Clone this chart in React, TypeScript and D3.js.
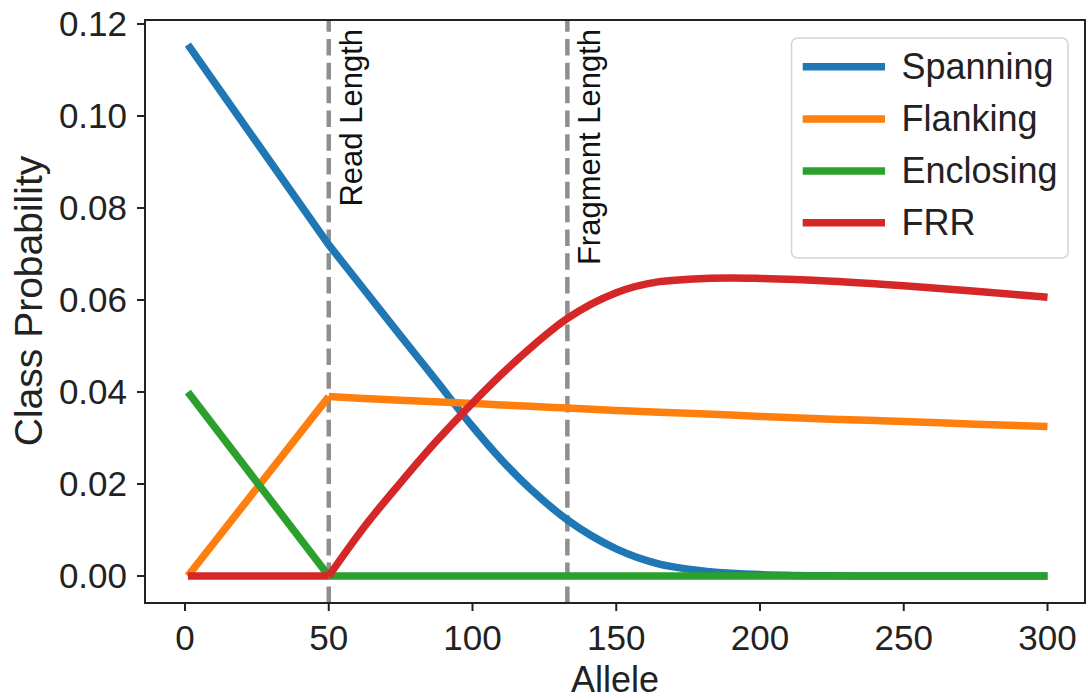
import React from "react";
import * as d3 from "d3";

// ---- data ----
const alleles = [1, 50, 62, 75, 87, 100, 110, 120, 133, 150, 165, 175, 190, 200, 225, 250, 275, 300];
const spanning = [0.1155, 0.072, 0.0625, 0.0522, 0.0428, 0.0325, 0.0253, 0.019, 0.0122, 0.0059, 0.0026, 0.0015, 0.0006, 0.0003, 0.00005, 0, 0, 0];
const flanking = [0, 0.039, 0.0386, 0.0382, 0.0379, 0.0375, 0.0372, 0.0369, 0.0365, 0.036, 0.0356, 0.0354, 0.035, 0.0347, 0.0341, 0.0336, 0.033, 0.0325];
const enclosing = [0.04, 0, 0, 0, 0, 0, 0, 0, 0, 0, 0, 0, 0, 0, 0, 0, 0, 0];
const frr = [0, 0, 0.0104, 0.0203, 0.029, 0.0376, 0.0438, 0.0495, 0.056, 0.0616, 0.064, 0.0645, 0.0648, 0.0647, 0.0641, 0.0631, 0.0619, 0.0606];

const seriesNames = ["Spanning", "Flanking", "Enclosing", "FRR"];
const seriesValues = [spanning, flanking, enclosing, frr];
const seriesColors = ["#1f77b4", "#ff7f0e", "#2ca02c", "#d62728"];

const xTicks = [0, 50, 100, 150, 200, 250, 300];
const yTicks = [0, 0.02, 0.04, 0.06, 0.08, 0.1, 0.12];

const readLength = 50;
const fragmentLength = 133;
const markers = [
  { x: readLength, label: "Read Length" },
  { x: fragmentLength, label: "Fragment Length" },
];

const FONT = "'Liberation Sans', Arial, Helvetica, sans-serif";

export default function App() {
  const W = 1088;
  const H = 700;
  const box = { left: 145, right: 1085, top: 20, bottom: 603 };

  const x = d3.scaleLinear().domain([0, 300]).range([185, 1047.5]);
  const y = d3.scaleLinear().domain([0, 0.12]).range([576, 24]);

  const linePart = d3
    .line<[number, number]>()
    .x((d) => x(d[0]))
    .y((d) => y(d[1]))
    .curve(d3.curveLinear);
  const curvePart = d3
    .line<[number, number]>()
    .x((d) => x(d[0]))
    .y((d) => y(d[1]))
    .curve(d3.curveMonotoneX);

  const paths = seriesValues.map((vals) => {
    const pts: [number, number][] = alleles.map((a, i) => [a, vals[i]]);
    const before = pts.filter((p) => p[0] <= readLength);
    const after = pts.filter((p) => p[0] >= readLength);
    return (linePart(before) || "") + (curvePart(after) || "");
  });

  const legendRows = [66.7, 119, 171, 222.7];

  return (
    <svg
      width={W}
      height={H}
      style={{ position: "absolute", left: 0, top: 0, background: "#fff" }}
      fontFamily={FONT}
    >
      <rect x={0} y={0} width={W} height={H} fill="#fff" />

      {/* dashed markers */}
      {markers.map((m) => (
        <g key={m.label}>
          <line
            x1={x(m.x)}
            x2={x(m.x)}
            y1={box.bottom}
            y2={box.top}
            stroke="#8f8f8f"
            strokeWidth={4.5}
            strokeDasharray="16.6 7.2"
          />
          <text
            transform={`translate(${x(m.x) + 33},29) rotate(-90)`}
            textAnchor="end"
            fontSize={31}
            fill="#111"
          >
            {m.label}
          </text>
        </g>
      ))}

      {/* series */}
      {paths.map((d, i) => (
        <path
          key={seriesNames[i]}
          d={d}
          fill="none"
          stroke={seriesColors[i]}
          strokeWidth={7.5}
          strokeLinejoin="round"
          strokeLinecap="butt"
        />
      ))}

      {/* axes frame */}
      <rect
        x={box.left}
        y={box.top}
        width={box.right - box.left}
        height={box.bottom - box.top}
        fill="none"
        stroke="#222"
        strokeWidth={2}
      />

      {/* y ticks */}
      {yTicks.map((t) => (
        <g key={"y" + t}>
          <line x1={box.left - 8} x2={box.left} y1={y(t)} y2={y(t)} stroke="#222" strokeWidth={2} />
          <text x={127} y={y(t)} dy="0.35em" textAnchor="end" fontSize={35} fill="#222">
            {t.toFixed(2)}
          </text>
        </g>
      ))}

      {/* x ticks */}
      {xTicks.map((t) => (
        <g key={"x" + t}>
          <line x1={x(t)} x2={x(t)} y1={box.bottom} y2={box.bottom + 8} stroke="#222" strokeWidth={2} />
          <text x={x(t)} y={650} textAnchor="middle" fontSize={35} fill="#222">
            {t}
          </text>
        </g>
      ))}

      {/* axis labels */}
      <text x={(box.left + box.right) / 2} y={692} textAnchor="middle" fontSize={36} fill="#222">
        Allele
      </text>
      <text transform="translate(42,301) rotate(-90)" textAnchor="middle" fontSize={39} fill="#222">
        Class Probability
      </text>

      {/* legend */}
      <rect x={791.5} y={38} width={276.5} height={220} rx={6} ry={6} fill="#fff" fillOpacity={0.85} stroke="#d4d4d4" strokeWidth={1.5} />
      {seriesNames.map((n, i) => (
        <g key={"lg" + n}>
          <line x1={802.7} x2={885} y1={legendRows[i]} y2={legendRows[i]} stroke={seriesColors[i]} strokeWidth={7.5} />
          <text x={901.5} y={legendRows[i]} dy="0.33em" fontSize={36} fill="#222">
            {n}
          </text>
        </g>
      ))}
    </svg>
  );
}
